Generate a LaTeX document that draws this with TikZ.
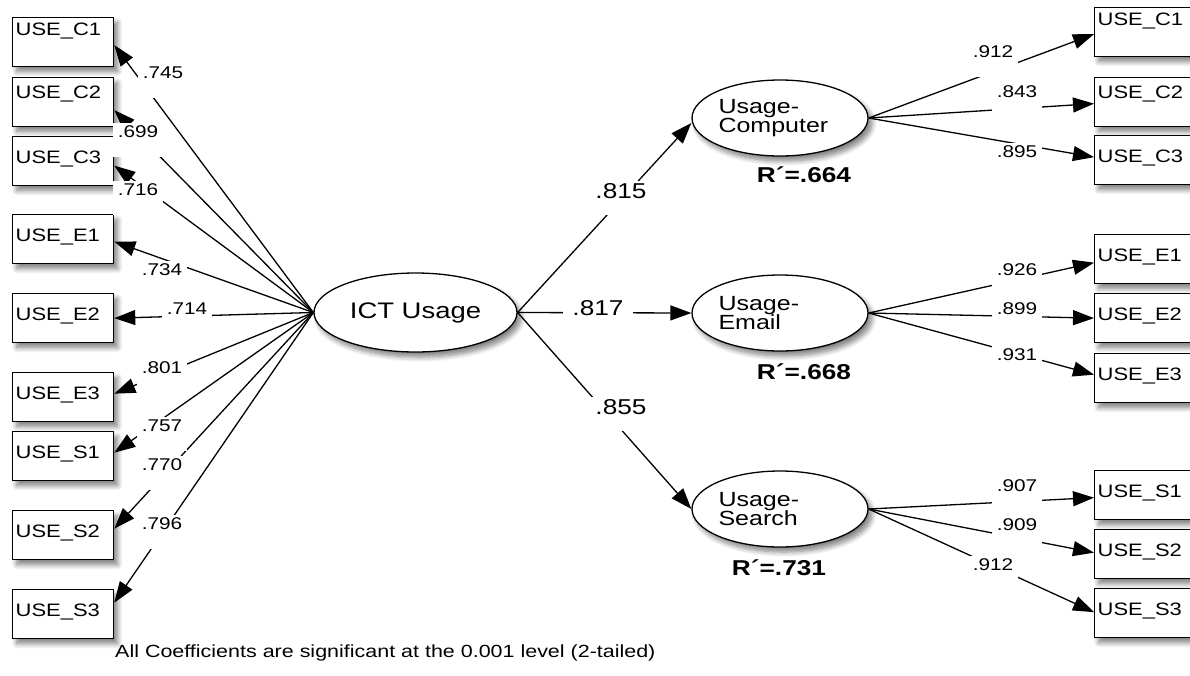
\documentclass[tikz,border=0pt]{standalone}
\usepackage{fontspec}
\setmainfont{Liberation Sans}[FakeStretch=1.22]
\usetikzlibrary{arrows.meta,shapes.geometric,shadows.blur}

\tikzset{
  soft/.style={blur shadow={shadow xshift=4pt, shadow yshift=-5pt, shadow blur radius=5pt, shadow blur steps=8, shadow opacity=50}},
  obs/.style={draw, line width=1.3pt, fill=white, soft, anchor=north west,
    minimum width=101pt, minimum height=49pt, inner xsep=3pt, inner ysep=0pt,
    text width=95pt, align=left, text height=15pt, text depth=11pt,
    font=\fontsize{18}{18}\selectfont},
  hiC1/.style={text height=6pt, text depth=20pt},
  hiC2/.style={text height=9pt, text depth=17pt},
  lat/.style={ellipse, draw, line width=1.3pt, fill=white, soft, inner sep=0pt},
  sublat/.style={lat, minimum width=176pt, minimum height=76pt, text width=123pt,
    align=left, font=\fontsize{20.5}{19.5}\selectfont},
  link/.style={-{Triangle[length=21pt,width=15pt]}, line width=1.3pt},
  coef/.style={fill=white, anchor=base, inner xsep=5pt, inner ysep=2pt, text depth=18pt,
    font=\fontsize{17}{17}\selectfont},
  bigcoef/.style={coef, text depth=15pt, font=\fontsize{21.5}{21.5}\selectfont},
  rsq/.style={font=\fontsize{21.5}{21.5}\selectfont\bfseries, inner sep=0pt}
}

\begin{document}
\begin{tikzpicture}[x=1pt, y=-1pt]

\clip (0,0) rectangle (1190,675);

% Indicators of ICT Usage (left)
\node[obs, hiC1] (lc1) at (12,17)  {USE\_C1};
\node[obs, hiC2] (lc2) at (12,77)  {USE\_C2};
\node[obs]       (lc3) at (12,136) {USE\_C3};
\node[obs]       (le1) at (12,214) {USE\_E1};
\node[obs]       (le2) at (12,293) {USE\_E2};
\node[obs]       (le3) at (12,372) {USE\_E3};
\node[obs]       (ls1) at (12,431) {USE\_S1};
\node[obs]       (ls2) at (12,510) {USE\_S2};
\node[obs]       (ls3) at (12,589) {USE\_S3};

% Indicators of the three usage factors (right)
\node[obs, hiC1] (rc1) at (1094,7)   {USE\_C1};
\node[obs, hiC2] (rc2) at (1094,77)  {USE\_C2};
\node[obs]       (rc3) at (1094,135) {USE\_C3};
\node[obs]       (re1) at (1094,234) {USE\_E1};
\node[obs]       (re2) at (1094,293) {USE\_E2};
\node[obs]       (re3) at (1094,353) {USE\_E3};
\node[obs]       (rs1) at (1094,470) {USE\_S1};
\node[obs]       (rs2) at (1094,529) {USE\_S2};
\node[obs]       (rs3) at (1094,588) {USE\_S3};

% Latent factors
\node[lat, minimum width=203pt, minimum height=79pt, font=\fontsize{22.5}{22.5}\selectfont]
  (ict) at (415.5,312.5) {ICT Usage};
\node[sublat] (ucomp)   at (780,118) {Usage-\\Computer};
\node[sublat] (uemail)  at (780,313) {Usage-\\Email};
\node[sublat] (usearch) at (780,509) {Usage-\\Search};

% Second order paths
\draw[link] (ict.east) -- ([yshift=-5pt]ucomp.west);
\draw[link] (ict.east) -- (uemail.west);
\draw[link] (ict.east) -- (usearch.west);

% Loadings, left
\foreach \b/\dy in {lc1/-3, lc2/-8, lc3/-4.5, le1/-2.5, le2/0, le3/3.5, ls1/3.5, ls2/6.5, ls3/11.5}
  \draw[link] (ict.west) -- ([yshift=\dy pt]\b.east);

% Loadings, right
\foreach \b/\dy in {rc1/-2, rc2/-1.5, rc3/3}
  \draw[link] (ucomp.east) -- ([yshift=\dy pt]\b.west);
\foreach \b/\dy in {re1/-3.5, re2/0, re3/3.5}
  \draw[link] (uemail.east) -- ([yshift=\dy pt]\b.west);
\foreach \b/\dy in {rs1/-2.5, rs2/1.5, rs3/1}
  \draw[link] (usearch.east) -- ([yshift=\dy pt]\b.west);

% Coefficients
\foreach \nm/\px/\py/\v in {k1/163/78/.745, k2/138/137/.699, k3/138/195/.716,
    k4/162/275/.734, k5/187/314/.714, k6/162/373/.801,
    k7/162/431/.757, k8/162/470/.770, k9/162/529/.796}
  \node[coef] (\nm) at (\px,\py) {\v};
\foreach \nm/\px/\py/\v in {m1/993/57/.912, m2/1017/97/.843, m3/1017/157/.895,
    m4/1017/275/.926, m5/1017/314/.899, m6/1017/360/.931,
    m7/1017/491/.907, m8/1017/530/.909, m9/993/570/.912}
  \node[coef] (\nm) at (\px,\py) {\v};
\node[bigcoef] (g1) at (621,198) {.815};
\node[bigcoef, inner xsep=9pt] (g2) at (598,315) {.817};
\node[bigcoef] (g3) at (621,414) {.855};

% R squared
\node[rsq] (r1) at (804,175) {R´=.664};
\node[rsq] (r2) at (804,372) {R´=.668};
\node[rsq] (r3) at (779,568) {R´=.731};

\node[anchor=base west, inner sep=0pt, font=\fontsize{17.6}{17.6}\selectfont] (note) at (115,657)
  {All Coefficients are significant at the 0.001 level (2-tailed)};

\end{tikzpicture}
\end{document}
